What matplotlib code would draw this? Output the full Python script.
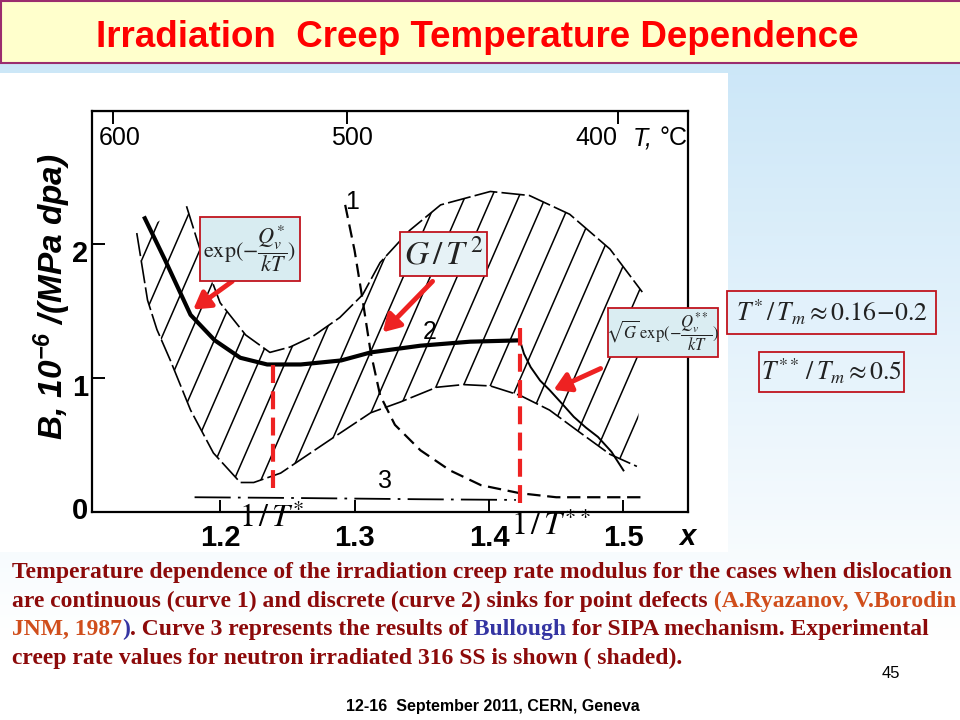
import numpy as np
import matplotlib.pyplot as plt
from matplotlib.patches import Rectangle, Polygon
from matplotlib.collections import LineCollection
from matplotlib.transforms import ScaledTranslation, blended_transform_factory

plt.rcParams['mathtext.fontset'] = 'custom'
plt.rcParams['mathtext.rm'] = 'Liberation Sans:bold:italic'
plt.rcParams['mathtext.it'] = 'Liberation Sans:bold:italic'
plt.rcParams['mathtext.bf'] = 'Liberation Sans:bold:italic'

W, H = 960, 720

# axes ticks (x = reciprocal temperature scale, top = T in C)
x_ticks = [1.2, 1.3, 1.4, 1.5]
y_ticks = [0, 1, 2]
top_tick_x = [1.120, 1.294, 1.496]
top_labels = ["600", "500", "400"]

# curve 1 - continuous sinks (dashed)
c1_x = [1.293, 1.300, 1.306, 1.312, 1.319, 1.330, 1.349, 1.371, 1.394, 1.423, 1.450, 1.517]
c1_y = [2.29, 1.95, 1.58, 1.19, 0.87, 0.65, 0.46, 0.31, 0.20, 0.14, 0.11, 0.11]

# curve 2 - discrete sinks (thick) and its high-x drop (thin)
c2_x = [1.144, 1.159, 1.178, 1.196, 1.215, 1.235, 1.260, 1.290, 1.312, 1.349, 1.386, 1.423]
c2_y = [2.19, 1.88, 1.47, 1.28, 1.15, 1.10, 1.10, 1.13, 1.19, 1.24, 1.27, 1.28]
c2_tail_x = [1.423, 1.426, 1.431, 1.438, 1.445, 1.455, 1.463, 1.472, 1.481, 1.491, 1.500]
c2_tail_y = [1.28, 1.18, 1.08, 0.98, 0.91, 0.80, 0.71, 0.63, 0.56, 0.45, 0.31]

# curve 3 - Bullough, SIPA (dash-dot)
c3_x = [1.181, 1.25, 1.30, 1.35, 1.42]
c3_y = [0.11, 0.105, 0.10, 0.095, 0.09]

# experimental band (shaded), upper and lower edges
ub_x = [1.175, 1.185, 1.200, 1.219, 1.237, 1.252, 1.269, 1.289, 1.306, 1.319, 1.341, 1.364, 1.401, 1.430, 1.460, 1.490, 1.514]
ub_y = [2.28, 1.96, 1.56, 1.32, 1.19, 1.23, 1.31, 1.45, 1.62, 1.86, 2.10, 2.29, 2.39, 2.36, 2.22, 1.96, 1.64]
lb_x = [1.138, 1.146, 1.153, 1.163, 1.178, 1.195, 1.215, 1.225, 1.245, 1.282, 1.312, 1.334, 1.361, 1.381, 1.401, 1.423, 1.445, 1.468, 1.490, 1.510]
lb_y = [2.08, 1.58, 1.36, 1.13, 0.76, 0.44, 0.22, 0.22, 0.29, 0.54, 0.74, 0.82, 0.93, 0.95, 0.94, 0.87, 0.76, 0.59, 0.43, 0.34]

# marked temperatures 1/T* and 1/T**
t_star_x, t_star_y = 1.239, [0.18, 1.13]
t_2star_x, t_2star_y = 1.423, [0.07, 1.37]

fig = plt.figure(figsize=(9.6, 7.2), dpi=100)

def fx(p):
    return p / W

def fy(p):
    return 1 - p / H

# slide background
bg = fig.add_axes([0, 0, 1, 1], zorder=0)
rows = np.linspace(63, H, 300)
tt = np.clip((rows - 63) / (640 - 63), 0, 1)[:, None]
grad = np.array([0.80, 0.905, 0.972]) * (1 - tt) + tt
bg.imshow(grad[:, None, :], extent=[0, W, H, 63], aspect='auto', interpolation='bilinear')
bg.add_patch(Rectangle((1, 1), W + 5, 62, fc='#ffffcc', ec='#9b2d6e', lw=1.5))
bg.add_patch(Rectangle((0, 73), 728, 479, fc='white', ec='none'))
bg.set_xlim(0, W)
bg.set_ylim(H, 0)
bg.axis('off')

# chart
ax = fig.add_axes([fx(92), fy(512), (688 - 92) / W, (512 - 111) / H], zorder=1)
ax.patch.set_visible(False)
ax.set_xlim(1.1047, 1.548)
ax.set_ylim(0, 2.99)

band = Polygon(np.column_stack([ub_x + lb_x[::-1], ub_y + lb_y[::-1]]), closed=True,
               fc='none', ec='none', transform=ax.transData)
ax.add_patch(band)
slope = 23
segs = [[(c, 0), (c + 3 / slope, 3)] for c in np.arange(1.0, 1.56, 0.02)]
hatch = LineCollection(segs, colors='k', linewidths=1.1)
ax.add_collection(hatch)
hatch.set_clip_path(band)

ax.plot(ub_x, ub_y, color='k', lw=1.2, ls=(0, (14, 2.5)))
ax.plot(lb_x, lb_y, color='k', lw=1.2, ls=(0, (14, 2.5)))
ax.plot(c2_x, c2_y, color='k', lw=3)
ax.plot(c2_tail_x, c2_tail_y, color='k', lw=1.4)
ax.plot(c1_x, c1_y, color='k', lw=1.6, ls=(0, (6, 3)))
ax.plot(c3_x, c3_y, color='k', lw=1.3, ls=(0, (20, 4, 1.5, 4)))

red = '#ee2222'
ax.plot([t_star_x, t_star_x], t_star_y, color=red, lw=3, ls=(0, (4.3, 2)))
ax.plot([t_2star_x, t_2star_x], t_2star_y, color=red, lw=3, ls=(0, (4.3, 2)))

ax.text(1.298, 2.31, "1", fontsize=18, family='Liberation Sans', ha='center', va='center')
ax.text(1.356, 1.34, "2", fontsize=18, family='Liberation Sans', ha='center', va='center')
ax.text(1.323, 0.23, "3", fontsize=18, family='Liberation Sans', ha='center', va='center')

ax.text(1.2387, -0.045, r"$1\,/\,T^{*}$", fontsize=23, math_fontfamily='stix', ha='center', va='center')
ax.text(1.4457, -0.11, r"$1\,/\,T^{**}$", fontsize=23, math_fontfamily='stix', ha='center', va='center')

arrow = dict(arrowstyle='-|>,head_length=0.5,head_width=0.3', color=red, lw=3.5,
             shrinkA=0, shrinkB=0, mutation_scale=20)
ax.annotate('', xy=(1.180, 1.51), xytext=(1.209, 1.72), arrowprops=arrow)
ax.annotate('', xy=(1.321, 1.34), xytext=(1.358, 1.72), arrowprops=arrow)
ax.annotate('', xy=(1.448, 0.91), xytext=(1.483, 1.07), arrowprops=arrow)

for s in ax.spines.values():
    s.set_linewidth(1.6)
ax.set_xticks(x_ticks)
ax.set_xticklabels([f"{v:.1f}" for v in x_ticks], fontsize=21, fontweight='bold', family='Liberation Sans')
ax.set_yticks(y_ticks)
ax.set_yticklabels([str(v) for v in y_ticks], fontsize=21, fontweight='bold', family='Liberation Sans')
ax.tick_params(axis='x', direction='in', length=9, width=1.4, pad=9)
ax.tick_params(axis='y', direction='in', length=9, width=1.4, pad=3)
for lab, v in zip(ax.get_yticklabels(), y_ticks):
    dy = 4 if v == 0 else -7
    lab.set_transform(lab.get_transform() + ScaledTranslation(0, dy / 100, fig.dpi_scale_trans))

sec = ax.secondary_xaxis('top')
sec.set_xticks(top_tick_x)
sec.set_xticklabels([])
sec.tick_params(direction='in', length=9, width=1.4)

tr = blended_transform_factory(ax.transData, ax.transAxes)
for xv, lab in zip([1.1255, 1.2983, 1.480], top_labels):
    ax.text(xv, 0.932, lab, transform=tr, fontsize=18, family='Liberation Sans', ha='center', va='center')
ax.text(1.507, 0.932, "T,", transform=tr, fontsize=18, family='Liberation Sans', style='italic', ha='left', va='center')
ax.text(1.527, 0.932, "°C", transform=tr, fontsize=18, family='Liberation Sans', ha='left', va='center')
ax.text(1.5477, -0.062, "x", transform=tr, fontsize=21, family='Liberation Sans', style='italic',
        fontweight='bold', ha='center', va='center')

fig.text(fx(52), fy(297), r"B, 10$^{-6}$ /(MPa dpa)", rotation=90, fontsize=24, family='Liberation Sans',
         style='italic', fontweight='bold', ha='center', va='center')

# formula boxes
ov = fig.add_axes([0, 0, 1, 1], zorder=3)
ov.set_xlim(0, W)
ov.set_ylim(H, 0)
ov.axis('off')
ov.patch.set_visible(False)
boxes = [
    (200, 217, 100, 64, '#d8ecf1', r"$\exp(-\dfrac{Q_v^{*}}{kT})$", 16),
    (400, 232, 87, 44, '#e6f2f6', r"$G\,/\,T^{\,2}$", 24),
    (608, 308, 110, 49, '#daedf2', r"$\sqrt{G}\,\exp(-\dfrac{Q_v^{**}}{kT})$", 12),
    (727, 291, 209, 43, '#e2f1fb', r"$T^{*}\,/\,T_m\approx 0.16\!-\!0.2$", 18.5),
    (759, 352, 145, 40, '#e6f3fb', r"$T^{**}\,/\,T_m\approx 0.5$", 18.5),
]
for x0, y0, w, h, fc, s, fs in boxes:
    ov.add_patch(Rectangle((x0, y0), w, h, fc=fc, ec='#c0141e', lw=1.3))
    ov.text(x0 + w / 2, y0 + h / 2, s, fontsize=fs, math_fontfamily='stix', color='#222222',
            ha='center', va='center')

# title and texts
fig.text(fx(477), fy(47), "Irradiation  Creep Temperature Dependence", fontsize=26.5,
         family='Liberation Sans', fontweight='bold', color='#ff0000', ha='center', va='baseline')

dred = '#8c0a0a'
orange = '#d04e1c'
blue = '#3434a2'
cap = dict(fontsize=17, family='Liberation Serif', fontweight='bold', va='baseline', ha='left')
caption = [
    (578, [("Temperature dependence of the irradiation creep rate modulus for the cases when dislocation", dred)]),
    (607, [("are continuous (curve 1) and discrete (curve 2) sinks for point defects", dred),
           (" (A.Ryazanov, V.Borodin", orange)]),
    (635, [("JNM, 1987", orange), (")", blue), (". Curve 3 represents the results of", dred),
           (" Bullough", blue), (" for SIPA mechanism. Experimental", dred)]),
    (664, [("creep rate values for neutron irradiated 316 SS is shown ( shaded).", dred)]),
]
renderer = fig.canvas.get_renderer()
for yb, parts in caption:
    xp = 12
    for s, c in parts:
        t = fig.text(fx(xp), fy(yb), s, color=c, **cap)
        xp += t.get_window_extent(renderer).width

fig.text(fx(891), fy(678), "45", fontsize=12, family='Liberation Sans', ha='center', va='baseline')
fig.text(fx(493), fy(711), "12-16  September 2011, CERN, Geneva", fontsize=11.5, family='Liberation Sans',
         fontweight='bold', ha='center', va='baseline')

fig.savefig("out.png", dpi=100)
